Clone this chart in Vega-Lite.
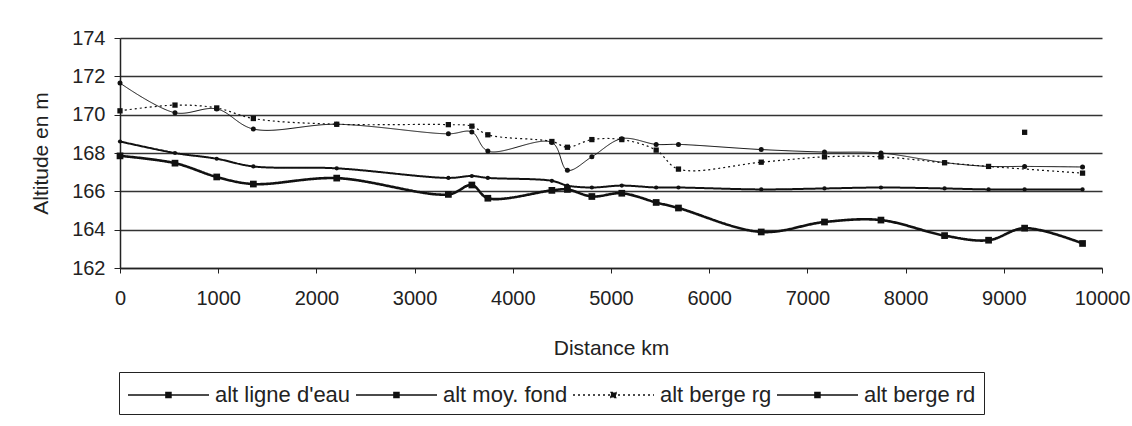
{
  "$schema": "https://vega.github.io/schema/vega-lite/v6.json",
  "width": 982,
  "height": 230,
  "autosize": {"type": "none"},
  "padding": {"left": 120, "top": 38, "right": 30, "bottom": 158},
  "background": "white",
  "config": {
    "font": "Liberation Sans",
    "view": {"stroke": null},
    "axis": {"labelColor": "#222", "titleColor": "#222", "titleFontWeight": "normal", "domainColor": "#222", "tickColor": "#222", "domainWidth": 1.5}
  },
  "data": {
    "values": [
      {"d": 0, "serie": "alt ligne d'eau", "alt": 168.6, "seg": 1},
      {"d": 560, "serie": "alt ligne d'eau", "alt": 168.0, "seg": 1},
      {"d": 985, "serie": "alt ligne d'eau", "alt": 167.7, "seg": 1},
      {"d": 1358, "serie": "alt ligne d'eau", "alt": 167.3, "seg": 1},
      {"d": 2207, "serie": "alt ligne d'eau", "alt": 167.2, "seg": 1},
      {"d": 3344, "serie": "alt ligne d'eau", "alt": 166.7, "seg": 1},
      {"d": 3583, "serie": "alt ligne d'eau", "alt": 166.8, "seg": 1},
      {"d": 3746, "serie": "alt ligne d'eau", "alt": 166.7, "seg": 1},
      {"d": 4398, "serie": "alt ligne d'eau", "alt": 166.55, "seg": 1},
      {"d": 4556, "serie": "alt ligne d'eau", "alt": 166.3, "seg": 1},
      {"d": 4805, "serie": "alt ligne d'eau", "alt": 166.2, "seg": 1},
      {"d": 5110, "serie": "alt ligne d'eau", "alt": 166.3, "seg": 1},
      {"d": 5460, "serie": "alt ligne d'eau", "alt": 166.2, "seg": 1},
      {"d": 5687, "serie": "alt ligne d'eau", "alt": 166.2, "seg": 1},
      {"d": 6530, "serie": "alt ligne d'eau", "alt": 166.1, "seg": 1},
      {"d": 7174, "serie": "alt ligne d'eau", "alt": 166.15, "seg": 1},
      {"d": 7749, "serie": "alt ligne d'eau", "alt": 166.2, "seg": 1},
      {"d": 8397, "serie": "alt ligne d'eau", "alt": 166.15, "seg": 1},
      {"d": 8845, "serie": "alt ligne d'eau", "alt": 166.1, "seg": 1},
      {"d": 9212, "serie": "alt ligne d'eau", "alt": 166.1, "seg": 1},
      {"d": 9802, "serie": "alt ligne d'eau", "alt": 166.1, "seg": 1},

      {"d": 0, "serie": "alt moy. fond", "alt": 167.85, "seg": 1},
      {"d": 560, "serie": "alt moy. fond", "alt": 167.47, "seg": 1},
      {"d": 985, "serie": "alt moy. fond", "alt": 166.75, "seg": 1},
      {"d": 1358, "serie": "alt moy. fond", "alt": 166.38, "seg": 1},
      {"d": 2207, "serie": "alt moy. fond", "alt": 166.69, "seg": 1},
      {"d": 3344, "serie": "alt moy. fond", "alt": 165.84, "seg": 1},
      {"d": 3583, "serie": "alt moy. fond", "alt": 166.33, "seg": 1},
      {"d": 3746, "serie": "alt moy. fond", "alt": 165.64, "seg": 1},
      {"d": 4398, "serie": "alt moy. fond", "alt": 166.05, "seg": 1},
      {"d": 4556, "serie": "alt moy. fond", "alt": 166.1, "seg": 1},
      {"d": 4805, "serie": "alt moy. fond", "alt": 165.73, "seg": 1},
      {"d": 5110, "serie": "alt moy. fond", "alt": 165.9, "seg": 1},
      {"d": 5460, "serie": "alt moy. fond", "alt": 165.42, "seg": 1},
      {"d": 5687, "serie": "alt moy. fond", "alt": 165.13, "seg": 1},
      {"d": 6530, "serie": "alt moy. fond", "alt": 163.88, "seg": 1},
      {"d": 7174, "serie": "alt moy. fond", "alt": 164.4, "seg": 1},
      {"d": 7749, "serie": "alt moy. fond", "alt": 164.5, "seg": 1},
      {"d": 8397, "serie": "alt moy. fond", "alt": 163.69, "seg": 1},
      {"d": 8845, "serie": "alt moy. fond", "alt": 163.45, "seg": 1},
      {"d": 9212, "serie": "alt moy. fond", "alt": 164.08, "seg": 1},
      {"d": 9802, "serie": "alt moy. fond", "alt": 163.28, "seg": 1},

      {"d": 0, "serie": "alt berge rg", "alt": 170.2, "seg": 1},
      {"d": 560, "serie": "alt berge rg", "alt": 170.5, "seg": 1},
      {"d": 985, "serie": "alt berge rg", "alt": 170.35, "seg": 1},
      {"d": 1358, "serie": "alt berge rg", "alt": 169.8, "seg": 1},
      {"d": 2207, "serie": "alt berge rg", "alt": 169.5, "seg": 1},
      {"d": 3344, "serie": "alt berge rg", "alt": 169.48, "seg": 1},
      {"d": 3583, "serie": "alt berge rg", "alt": 169.4, "seg": 1},
      {"d": 3746, "serie": "alt berge rg", "alt": 168.95, "seg": 1},
      {"d": 4398, "serie": "alt berge rg", "alt": 168.6, "seg": 1},
      {"d": 4556, "serie": "alt berge rg", "alt": 168.3, "seg": 1},
      {"d": 4805, "serie": "alt berge rg", "alt": 168.7, "seg": 1},
      {"d": 5110, "serie": "alt berge rg", "alt": 168.7, "seg": 1},
      {"d": 5460, "serie": "alt berge rg", "alt": 168.15, "seg": 1},
      {"d": 5687, "serie": "alt berge rg", "alt": 167.16, "seg": 1},
      {"d": 6530, "serie": "alt berge rg", "alt": 167.52, "seg": 1},
      {"d": 7174, "serie": "alt berge rg", "alt": 167.8, "seg": 1},
      {"d": 7749, "serie": "alt berge rg", "alt": 167.8, "seg": 1},
      {"d": 8397, "serie": "alt berge rg", "alt": 167.49, "seg": 1},
      {"d": 8845, "serie": "alt berge rg", "alt": 167.3, "seg": 1},
      {"d": 9212, "serie": "alt berge rg", "alt": 169.08, "seg": 2},
      {"d": 9802, "serie": "alt berge rg", "alt": 166.95, "seg": 1},

      {"d": 0, "serie": "alt berge rd", "alt": 171.65, "seg": 1},
      {"d": 560, "serie": "alt berge rd", "alt": 170.1, "seg": 1},
      {"d": 985, "serie": "alt berge rd", "alt": 170.3, "seg": 1},
      {"d": 1358, "serie": "alt berge rd", "alt": 169.25, "seg": 1},
      {"d": 2207, "serie": "alt berge rd", "alt": 169.5, "seg": 1},
      {"d": 3344, "serie": "alt berge rd", "alt": 169.0, "seg": 1},
      {"d": 3583, "serie": "alt berge rd", "alt": 169.1, "seg": 1},
      {"d": 3746, "serie": "alt berge rd", "alt": 168.1, "seg": 1},
      {"d": 4398, "serie": "alt berge rd", "alt": 168.55, "seg": 1},
      {"d": 4556, "serie": "alt berge rd", "alt": 167.1, "seg": 1},
      {"d": 4805, "serie": "alt berge rd", "alt": 167.8, "seg": 1},
      {"d": 5110, "serie": "alt berge rd", "alt": 168.75, "seg": 1},
      {"d": 5460, "serie": "alt berge rd", "alt": 168.45, "seg": 1},
      {"d": 5687, "serie": "alt berge rd", "alt": 168.45, "seg": 1},
      {"d": 6530, "serie": "alt berge rd", "alt": 168.18, "seg": 1},
      {"d": 7174, "serie": "alt berge rd", "alt": 168.05, "seg": 1},
      {"d": 7749, "serie": "alt berge rd", "alt": 168.0, "seg": 1},
      {"d": 8397, "serie": "alt berge rd", "alt": 167.5, "seg": 1},
      {"d": 8845, "serie": "alt berge rd", "alt": 167.3, "seg": 1},
      {"d": 9212, "serie": "alt berge rd", "alt": 167.3, "seg": 1},
      {"d": 9802, "serie": "alt berge rd", "alt": 167.27, "seg": 1}
    ]
  },
  "encoding": {
    "x": {
      "field": "d", "type": "quantitative",
      "scale": {"domain": [0, 10000], "nice": false, "zero": false},
      "axis": {
        "title": "Distance km", "titleFontSize": 21, "titlePadding": 29,
        "values": [0, 1000, 2000, 3000, 4000, 5000, 6000, 7000, 8000, 9000, 10000],
        "format": "d", "labelFontSize": 20, "labelPadding": 15, "tickSize": 5,
        "grid": false, "labelFlush": false
      }
    },
    "y": {
      "field": "alt", "type": "quantitative",
      "scale": {"domain": [162, 174], "nice": false, "zero": false},
      "axis": {
        "title": "Altitude en m", "titleFontSize": 21, "titlePadding": 20,
        "values": [162, 164, 166, 168, 170, 172, 174],
        "labelFontSize": 20, "labelPadding": 9, "tickSize": 6,
        "grid": true, "gridColor": "#333", "gridWidth": 1.5
      }
    }
  },
  "layer": [
    {
      "mark": {"type": "line", "interpolate": "catmull-rom", "color": "#111"},
      "encoding": {
        "detail": {"field": "seg", "type": "nominal"},
        "strokeDash": {
          "field": "serie", "type": "nominal",
          "scale": {
            "domain": ["alt ligne d'eau", "alt moy. fond", "alt berge rg", "alt berge rd"],
            "range": [[1, 0], [1, 0], [2, 3], [1, 0]]
          },
          "legend": {
            "title": null, "orient": "none", "legendX": -1, "legendY": 334,
            "direction": "horizontal", "strokeColor": "#222", "padding": 8,
            "labelFontSize": 22, "labelColor": "#222", "labelOffset": 58, "columnPadding": 2,
            "symbolType": "M-1,0H4.786M1.71,-0.18H2.07V0.18H1.71Z",
            "symbolSize": 784, "symbolStrokeWidth": 1.5, "symbolStrokeColor": "#111",
            "symbolFillColor": "#111",
            "encode": {
              "symbols": {
                "update": {
                  "fill": {"value": "#111"},
                  "stroke": {"value": "#111"},
                  "strokeWidth": {"value": 1.5},
                  "opacity": {"value": 1}
                }
              }
            }
          }
        },
        "strokeWidth": {
          "condition": [
            {"test": "datum.serie === 'alt ligne d\\'eau'", "value": 2},
            {"test": "datum.serie === 'alt moy. fond'", "value": 2.6},
            {"test": "datum.serie === 'alt berge rg'", "value": 1.2}
          ],
          "value": 1
        }
      }
    },
    {
      "mark": {"type": "point", "filled": true, "color": "#111", "opacity": 1},
      "encoding": {
        "shape": {
          "condition": {"test": "datum.serie === 'alt moy. fond' || datum.serie === 'alt berge rg'", "value": "square"},
          "value": "circle"
        },
        "size": {
          "condition": [
            {"test": "datum.serie === 'alt moy. fond'", "value": 45},
            {"test": "datum.serie === 'alt berge rg'", "value": 28},
            {"test": "datum.serie === 'alt berge rd'", "value": 25}
          ],
          "value": 18
        }
      }
    }
  ]
}
